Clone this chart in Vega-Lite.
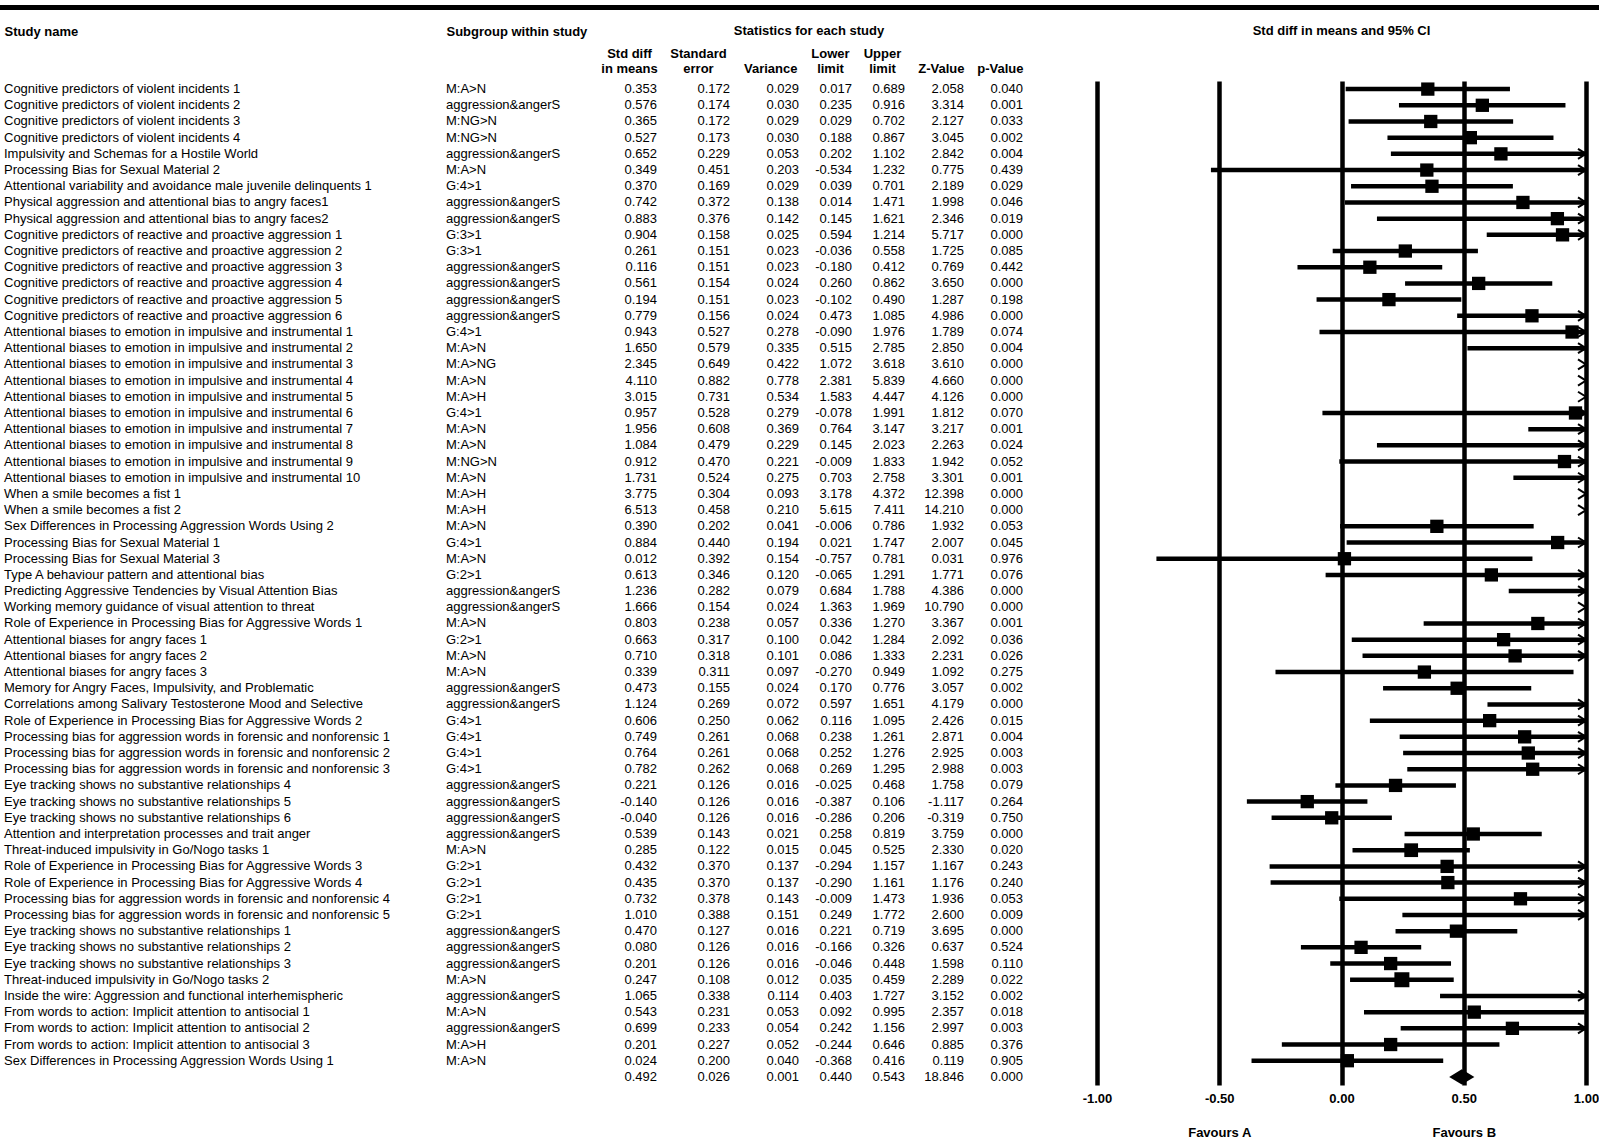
{
  "$schema": "https://vega.github.io/schema/vega-lite/v6.json",
  "autosize": {"type": "pad"},
  "padding": {"left": 0, "top": 5, "right": 0, "bottom": 0},
  "background": "white",
  "config": {
    "font": "Liberation Sans",
    "view": {"stroke": null},
    "locale": {"number": {"decimal": ".", "thousands": ",", "grouping": [3], "currency": ["$", ""], "minus": "-"}},
    "axis": {"labelColor": "black", "labelFontWeight": "bold", "labelFontSize": 13, "labelAngle": 0, "ticks": false, "tickSize": 0, "domain": false, "labelOverlap": false, "title": null}
  },
  "datasets": {
    "studies": [
      {"row": 1, "type": "study", "study": "Cognitive predictors of violent incidents 1", "subgroup": "M:A>N", "es": 0.353, "se": 0.172, "var": 0.029, "lower": 0.017, "upper": 0.689, "z": 2.058, "p": 0.040},
      {"row": 2, "type": "study", "study": "Cognitive predictors of violent incidents 2", "subgroup": "aggression&angerS", "es": 0.576, "se": 0.174, "var": 0.030, "lower": 0.235, "upper": 0.916, "z": 3.314, "p": 0.001},
      {"row": 3, "type": "study", "study": "Cognitive predictors of violent incidents 3", "subgroup": "M:NG>N", "es": 0.365, "se": 0.172, "var": 0.029, "lower": 0.029, "upper": 0.702, "z": 2.127, "p": 0.033},
      {"row": 4, "type": "study", "study": "Cognitive predictors of violent incidents 4", "subgroup": "M:NG>N", "es": 0.527, "se": 0.173, "var": 0.030, "lower": 0.188, "upper": 0.867, "z": 3.045, "p": 0.002},
      {"row": 5, "type": "study", "study": "Impulsivity and Schemas for a Hostile World", "subgroup": "aggression&angerS", "es": 0.652, "se": 0.229, "var": 0.053, "lower": 0.202, "upper": 1.102, "z": 2.842, "p": 0.004},
      {"row": 6, "type": "study", "study": "Processing Bias for Sexual Material 2", "subgroup": "M:A>N", "es": 0.349, "se": 0.451, "var": 0.203, "lower": -0.534, "upper": 1.232, "z": 0.775, "p": 0.439},
      {"row": 7, "type": "study", "study": "Attentional variability and avoidance male juvenile delinquents 1", "subgroup": "G:4>1", "es": 0.370, "se": 0.169, "var": 0.029, "lower": 0.039, "upper": 0.701, "z": 2.189, "p": 0.029},
      {"row": 8, "type": "study", "study": "Physical aggression and attentional bias to angry faces1", "subgroup": "aggression&angerS", "es": 0.742, "se": 0.372, "var": 0.138, "lower": 0.014, "upper": 1.471, "z": 1.998, "p": 0.046},
      {"row": 9, "type": "study", "study": "Physical aggression and attentional bias to angry faces2", "subgroup": "aggression&angerS", "es": 0.883, "se": 0.376, "var": 0.142, "lower": 0.145, "upper": 1.621, "z": 2.346, "p": 0.019},
      {"row": 10, "type": "study", "study": "Cognitive predictors of reactive and proactive aggression 1", "subgroup": "G:3>1", "es": 0.904, "se": 0.158, "var": 0.025, "lower": 0.594, "upper": 1.214, "z": 5.717, "p": 0.000},
      {"row": 11, "type": "study", "study": "Cognitive predictors of reactive and proactive aggression 2", "subgroup": "G:3>1", "es": 0.261, "se": 0.151, "var": 0.023, "lower": -0.036, "upper": 0.558, "z": 1.725, "p": 0.085},
      {"row": 12, "type": "study", "study": "Cognitive predictors of reactive and proactive aggression 3", "subgroup": "aggression&angerS", "es": 0.116, "se": 0.151, "var": 0.023, "lower": -0.180, "upper": 0.412, "z": 0.769, "p": 0.442},
      {"row": 13, "type": "study", "study": "Cognitive predictors of reactive and proactive aggression 4", "subgroup": "aggression&angerS", "es": 0.561, "se": 0.154, "var": 0.024, "lower": 0.260, "upper": 0.862, "z": 3.650, "p": 0.000},
      {"row": 14, "type": "study", "study": "Cognitive predictors of reactive and proactive aggression 5", "subgroup": "aggression&angerS", "es": 0.194, "se": 0.151, "var": 0.023, "lower": -0.102, "upper": 0.490, "z": 1.287, "p": 0.198},
      {"row": 15, "type": "study", "study": "Cognitive predictors of reactive and proactive aggression 6", "subgroup": "aggression&angerS", "es": 0.779, "se": 0.156, "var": 0.024, "lower": 0.473, "upper": 1.085, "z": 4.986, "p": 0.000},
      {"row": 16, "type": "study", "study": "Attentional biases to emotion in impulsive and instrumental 1", "subgroup": "G:4>1", "es": 0.943, "se": 0.527, "var": 0.278, "lower": -0.090, "upper": 1.976, "z": 1.789, "p": 0.074},
      {"row": 17, "type": "study", "study": "Attentional biases to emotion in impulsive and instrumental 2", "subgroup": "M:A>N", "es": 1.650, "se": 0.579, "var": 0.335, "lower": 0.515, "upper": 2.785, "z": 2.850, "p": 0.004},
      {"row": 18, "type": "study", "study": "Attentional biases to emotion in impulsive and instrumental 3", "subgroup": "M:A>NG", "es": 2.345, "se": 0.649, "var": 0.422, "lower": 1.072, "upper": 3.618, "z": 3.610, "p": 0.000},
      {"row": 19, "type": "study", "study": "Attentional biases to emotion in impulsive and instrumental 4", "subgroup": "M:A>N", "es": 4.110, "se": 0.882, "var": 0.778, "lower": 2.381, "upper": 5.839, "z": 4.660, "p": 0.000},
      {"row": 20, "type": "study", "study": "Attentional biases to emotion in impulsive and instrumental 5", "subgroup": "M:A>H", "es": 3.015, "se": 0.731, "var": 0.534, "lower": 1.583, "upper": 4.447, "z": 4.126, "p": 0.000},
      {"row": 21, "type": "study", "study": "Attentional biases to emotion in impulsive and instrumental 6", "subgroup": "G:4>1", "es": 0.957, "se": 0.528, "var": 0.279, "lower": -0.078, "upper": 1.991, "z": 1.812, "p": 0.070},
      {"row": 22, "type": "study", "study": "Attentional biases to emotion in impulsive and instrumental 7", "subgroup": "M:A>N", "es": 1.956, "se": 0.608, "var": 0.369, "lower": 0.764, "upper": 3.147, "z": 3.217, "p": 0.001},
      {"row": 23, "type": "study", "study": "Attentional biases to emotion in impulsive and instrumental 8", "subgroup": "M:A>N", "es": 1.084, "se": 0.479, "var": 0.229, "lower": 0.145, "upper": 2.023, "z": 2.263, "p": 0.024},
      {"row": 24, "type": "study", "study": "Attentional biases to emotion in impulsive and instrumental 9", "subgroup": "M:NG>N", "es": 0.912, "se": 0.470, "var": 0.221, "lower": -0.009, "upper": 1.833, "z": 1.942, "p": 0.052},
      {"row": 25, "type": "study", "study": "Attentional biases to emotion in impulsive and instrumental 10", "subgroup": "M:A>N", "es": 1.731, "se": 0.524, "var": 0.275, "lower": 0.703, "upper": 2.758, "z": 3.301, "p": 0.001},
      {"row": 26, "type": "study", "study": "When a smile becomes a fist 1", "subgroup": "M:A>H", "es": 3.775, "se": 0.304, "var": 0.093, "lower": 3.178, "upper": 4.372, "z": 12.398, "p": 0.000},
      {"row": 27, "type": "study", "study": "When a smile becomes a fist 2", "subgroup": "M:A>H", "es": 6.513, "se": 0.458, "var": 0.210, "lower": 5.615, "upper": 7.411, "z": 14.210, "p": 0.000},
      {"row": 28, "type": "study", "study": "Sex Differences in Processing Aggression Words Using 2", "subgroup": "M:A>N", "es": 0.390, "se": 0.202, "var": 0.041, "lower": -0.006, "upper": 0.786, "z": 1.932, "p": 0.053},
      {"row": 29, "type": "study", "study": "Processing Bias for Sexual Material 1", "subgroup": "G:4>1", "es": 0.884, "se": 0.440, "var": 0.194, "lower": 0.021, "upper": 1.747, "z": 2.007, "p": 0.045},
      {"row": 30, "type": "study", "study": "Processing Bias for Sexual Material 3", "subgroup": "M:A>N", "es": 0.012, "se": 0.392, "var": 0.154, "lower": -0.757, "upper": 0.781, "z": 0.031, "p": 0.976},
      {"row": 31, "type": "study", "study": "Type A behaviour pattern and attentional bias", "subgroup": "G:2>1", "es": 0.613, "se": 0.346, "var": 0.120, "lower": -0.065, "upper": 1.291, "z": 1.771, "p": 0.076},
      {"row": 32, "type": "study", "study": "Predicting Aggressive Tendencies by Visual Attention Bias", "subgroup": "aggression&angerS", "es": 1.236, "se": 0.282, "var": 0.079, "lower": 0.684, "upper": 1.788, "z": 4.386, "p": 0.000},
      {"row": 33, "type": "study", "study": "Working memory guidance of visual attention to threat", "subgroup": "aggression&angerS", "es": 1.666, "se": 0.154, "var": 0.024, "lower": 1.363, "upper": 1.969, "z": 10.790, "p": 0.000},
      {"row": 34, "type": "study", "study": "Role of Experience in Processing Bias for Aggressive Words 1", "subgroup": "M:A>N", "es": 0.803, "se": 0.238, "var": 0.057, "lower": 0.336, "upper": 1.270, "z": 3.367, "p": 0.001},
      {"row": 35, "type": "study", "study": "Attentional biases for angry faces 1", "subgroup": "G:2>1", "es": 0.663, "se": 0.317, "var": 0.100, "lower": 0.042, "upper": 1.284, "z": 2.092, "p": 0.036},
      {"row": 36, "type": "study", "study": "Attentional biases for angry faces 2", "subgroup": "M:A>N", "es": 0.710, "se": 0.318, "var": 0.101, "lower": 0.086, "upper": 1.333, "z": 2.231, "p": 0.026},
      {"row": 37, "type": "study", "study": "Attentional biases for angry faces 3", "subgroup": "M:A>N", "es": 0.339, "se": 0.311, "var": 0.097, "lower": -0.270, "upper": 0.949, "z": 1.092, "p": 0.275},
      {"row": 38, "type": "study", "study": "Memory for Angry Faces, Impulsivity, and Problematic", "subgroup": "aggression&angerS", "es": 0.473, "se": 0.155, "var": 0.024, "lower": 0.170, "upper": 0.776, "z": 3.057, "p": 0.002},
      {"row": 39, "type": "study", "study": "Correlations among Salivary Testosterone Mood and Selective", "subgroup": "aggression&angerS", "es": 1.124, "se": 0.269, "var": 0.072, "lower": 0.597, "upper": 1.651, "z": 4.179, "p": 0.000},
      {"row": 40, "type": "study", "study": "Role of Experience in Processing Bias for Aggressive Words 2", "subgroup": "G:4>1", "es": 0.606, "se": 0.250, "var": 0.062, "lower": 0.116, "upper": 1.095, "z": 2.426, "p": 0.015},
      {"row": 41, "type": "study", "study": "Processing bias for aggression words in forensic and nonforensic 1", "subgroup": "G:4>1", "es": 0.749, "se": 0.261, "var": 0.068, "lower": 0.238, "upper": 1.261, "z": 2.871, "p": 0.004},
      {"row": 42, "type": "study", "study": "Processing bias for aggression words in forensic and nonforensic 2", "subgroup": "G:4>1", "es": 0.764, "se": 0.261, "var": 0.068, "lower": 0.252, "upper": 1.276, "z": 2.925, "p": 0.003},
      {"row": 43, "type": "study", "study": "Processing bias for aggression words in forensic and nonforensic 3", "subgroup": "G:4>1", "es": 0.782, "se": 0.262, "var": 0.068, "lower": 0.269, "upper": 1.295, "z": 2.988, "p": 0.003},
      {"row": 44, "type": "study", "study": "Eye tracking shows no substantive relationships 4", "subgroup": "aggression&angerS", "es": 0.221, "se": 0.126, "var": 0.016, "lower": -0.025, "upper": 0.468, "z": 1.758, "p": 0.079},
      {"row": 45, "type": "study", "study": "Eye tracking shows no substantive relationships 5", "subgroup": "aggression&angerS", "es": -0.140, "se": 0.126, "var": 0.016, "lower": -0.387, "upper": 0.106, "z": -1.117, "p": 0.264},
      {"row": 46, "type": "study", "study": "Eye tracking shows no substantive relationships 6", "subgroup": "aggression&angerS", "es": -0.040, "se": 0.126, "var": 0.016, "lower": -0.286, "upper": 0.206, "z": -0.319, "p": 0.750},
      {"row": 47, "type": "study", "study": "Attention and interpretation processes and trait anger", "subgroup": "aggression&angerS", "es": 0.539, "se": 0.143, "var": 0.021, "lower": 0.258, "upper": 0.819, "z": 3.759, "p": 0.000},
      {"row": 48, "type": "study", "study": "Threat-induced impulsivity in Go/Nogo tasks 1", "subgroup": "M:A>N", "es": 0.285, "se": 0.122, "var": 0.015, "lower": 0.045, "upper": 0.525, "z": 2.330, "p": 0.020},
      {"row": 49, "type": "study", "study": "Role of Experience in Processing Bias for Aggressive Words 3", "subgroup": "G:2>1", "es": 0.432, "se": 0.370, "var": 0.137, "lower": -0.294, "upper": 1.157, "z": 1.167, "p": 0.243},
      {"row": 50, "type": "study", "study": "Role of Experience in Processing Bias for Aggressive Words 4", "subgroup": "G:2>1", "es": 0.435, "se": 0.370, "var": 0.137, "lower": -0.290, "upper": 1.161, "z": 1.176, "p": 0.240},
      {"row": 51, "type": "study", "study": "Processing bias for aggression words in forensic and nonforensic 4", "subgroup": "G:2>1", "es": 0.732, "se": 0.378, "var": 0.143, "lower": -0.009, "upper": 1.473, "z": 1.936, "p": 0.053},
      {"row": 52, "type": "study", "study": "Processing bias for aggression words in forensic and nonforensic 5", "subgroup": "G:2>1", "es": 1.010, "se": 0.388, "var": 0.151, "lower": 0.249, "upper": 1.772, "z": 2.600, "p": 0.009},
      {"row": 53, "type": "study", "study": "Eye tracking shows no substantive relationships 1", "subgroup": "aggression&angerS", "es": 0.470, "se": 0.127, "var": 0.016, "lower": 0.221, "upper": 0.719, "z": 3.695, "p": 0.000},
      {"row": 54, "type": "study", "study": "Eye tracking shows no substantive relationships 2", "subgroup": "aggression&angerS", "es": 0.080, "se": 0.126, "var": 0.016, "lower": -0.166, "upper": 0.326, "z": 0.637, "p": 0.524},
      {"row": 55, "type": "study", "study": "Eye tracking shows no substantive relationships 3", "subgroup": "aggression&angerS", "es": 0.201, "se": 0.126, "var": 0.016, "lower": -0.046, "upper": 0.448, "z": 1.598, "p": 0.110},
      {"row": 56, "type": "study", "study": "Threat-induced impulsivity in Go/Nogo tasks 2", "subgroup": "M:A>N", "es": 0.247, "se": 0.108, "var": 0.012, "lower": 0.035, "upper": 0.459, "z": 2.289, "p": 0.022},
      {"row": 57, "type": "study", "study": "Inside the wire: Aggression and functional interhemispheric", "subgroup": "aggression&angerS", "es": 1.065, "se": 0.338, "var": 0.114, "lower": 0.403, "upper": 1.727, "z": 3.152, "p": 0.002},
      {"row": 58, "type": "study", "study": "From words to action: Implicit attention to antisocial 1", "subgroup": "M:A>N", "es": 0.543, "se": 0.231, "var": 0.053, "lower": 0.092, "upper": 0.995, "z": 2.357, "p": 0.018},
      {"row": 59, "type": "study", "study": "From words to action: Implicit attention to antisocial 2", "subgroup": "aggression&angerS", "es": 0.699, "se": 0.233, "var": 0.054, "lower": 0.242, "upper": 1.156, "z": 2.997, "p": 0.003},
      {"row": 60, "type": "study", "study": "From words to action: Implicit attention to antisocial 3", "subgroup": "M:A>H", "es": 0.201, "se": 0.227, "var": 0.052, "lower": -0.244, "upper": 0.646, "z": 0.885, "p": 0.376},
      {"row": 61, "type": "study", "study": "Sex Differences in Processing Aggression Words Using 1", "subgroup": "M:A>N", "es": 0.024, "se": 0.200, "var": 0.040, "lower": -0.368, "upper": 0.416, "z": 0.119, "p": 0.905},
      {"row": 62, "type": "summary", "study": "", "subgroup": "", "es": 0.492, "se": 0.026, "var": 0.001, "lower": 0.440, "upper": 0.543, "z": 18.846, "p": 0.000}
    ]
  },
  "vconcat": [
    {
      "width": 1599,
      "height": 5,
      "view": {"fill": "black", "stroke": null},
      "data": {"values": [{"part": "top rule"}]},
      "mark": {"type": "rect", "color": "black"},
      "encoding": {}
    },
    {
      "hconcat": [
        {
          "width": 521,
          "height": 1004,
          "data": {"name": "studies"},
          "transform": [{"fold": ["study", "subgroup"], "as": ["col", "val"]}],
          "mark": {"type": "text", "align": "left", "baseline": "middle", "fontSize": 13, "color": "black"},
          "encoding": {
            "x": {
              "field": "col", "type": "nominal",
              "scale": {"type": "point", "domain": ["study", "subgroup"], "padding": 0.089367, "align": 0.050633},
              "axis": {"orient": "top", "labelExpr": "datum.value == 'study' ? 'Study name' : 'Subgroup within study'", "labelAlign": "left", "labelBaseline": "bottom", "labelPadding": 43}
            },
            "y": {"field": "row", "type": "ordinal", "axis": null},
            "text": {"field": "val", "type": "nominal"}
          }
        },
        {
          "width": 428,
          "height": 1004,
          "data": {"name": "studies"},
          "title": {"text": "Statistics for each study", "anchor": "middle", "frame": "group", "fontSize": 13, "fontWeight": "bold", "color": "black", "offset": 9},
          "resolve": {"scale": {"x": "independent"}, "axis": {"x": "independent"}},
          "layer": [
            {
              "mark": {"type": "text", "align": "right", "baseline": "middle", "fontSize": 13, "color": "black"},
              "encoding": {
                "x": {"datum": "Std diff in means", "type": "nominal", "scale": {"type": "point", "align": 0.14486},
                  "axis": {"orient": "top", "labelExpr": "['Std diff', 'in means']", "labelAlign": "center", "labelOffset": -28, "labelBaseline": "bottom", "labelLineHeight": 15, "labelPadding": 21}},
                "y": {"field": "row", "type": "ordinal", "axis": null},
                "text": {"field": "es", "type": "quantitative", "format": ".3f"}
              }
            },
            {
              "mark": {"type": "text", "align": "right", "baseline": "middle", "fontSize": 13, "color": "black"},
              "encoding": {
                "x": {"datum": "Standard error", "type": "nominal", "scale": {"type": "point", "align": 0.31542},
                  "axis": {"orient": "top", "labelExpr": "['Standard', 'error']", "labelAlign": "center", "labelOffset": -32, "labelBaseline": "bottom", "labelLineHeight": 15, "labelPadding": 21}},
                "y": {"field": "row", "type": "ordinal", "axis": null},
                "text": {"field": "se", "type": "quantitative", "format": ".3f"}
              }
            },
            {
              "mark": {"type": "text", "align": "right", "baseline": "middle", "fontSize": 13, "color": "black"},
              "encoding": {
                "x": {"datum": "Variance", "type": "nominal", "scale": {"type": "point", "align": 0.47664},
                  "axis": {"orient": "top", "labelAlign": "right", "labelOffset": -2, "labelBaseline": "bottom", "labelPadding": 6}},
                "y": {"field": "row", "type": "ordinal", "axis": null},
                "text": {"field": "var", "type": "quantitative", "format": ".3f"}
              }
            },
            {
              "mark": {"type": "text", "align": "right", "baseline": "middle", "fontSize": 13, "color": "black"},
              "encoding": {
                "x": {"datum": "Lower limit", "type": "nominal", "scale": {"type": "point", "align": 0.60047},
                  "axis": {"orient": "top", "labelExpr": "['Lower', 'limit']", "labelAlign": "center", "labelOffset": -22, "labelBaseline": "bottom", "labelLineHeight": 15, "labelPadding": 21}},
                "y": {"field": "row", "type": "ordinal", "axis": null},
                "text": {"field": "lower", "type": "quantitative", "format": ".3f"}
              }
            },
            {
              "mark": {"type": "text", "align": "right", "baseline": "middle", "fontSize": 13, "color": "black"},
              "encoding": {
                "x": {"datum": "Upper limit", "type": "nominal", "scale": {"type": "point", "align": 0.72430},
                  "axis": {"orient": "top", "labelExpr": "['Upper', 'limit']", "labelAlign": "center", "labelOffset": -23, "labelBaseline": "bottom", "labelLineHeight": 15, "labelPadding": 21}},
                "y": {"field": "row", "type": "ordinal", "axis": null},
                "text": {"field": "upper", "type": "quantitative", "format": ".3f"}
              }
            },
            {
              "mark": {"type": "text", "align": "right", "baseline": "middle", "fontSize": 13, "color": "black"},
              "encoding": {
                "x": {"datum": "Z-Value", "type": "nominal", "scale": {"type": "point", "align": 0.86215},
                  "axis": {"orient": "top", "labelAlign": "right", "labelBaseline": "bottom", "labelPadding": 6}},
                "y": {"field": "row", "type": "ordinal", "axis": null},
                "text": {"field": "z", "type": "quantitative", "format": ".3f"}
              }
            },
            {
              "mark": {"type": "text", "align": "right", "baseline": "middle", "fontSize": 13, "color": "black"},
              "encoding": {
                "x": {"datum": "p-Value", "type": "nominal", "scale": {"type": "point", "align": 1},
                  "axis": {"orient": "top", "labelAlign": "right", "labelBaseline": "bottom", "labelPadding": 6}},
                "y": {"field": "row", "type": "ordinal", "axis": null},
                "text": {"field": "p", "type": "quantitative", "format": ".3f"}
              }
            }
          ]
        },
        {
          "width": 489,
          "height": 1004,
          "data": {"name": "studies"},
          "title": {"text": "Std diff in means and 95% CI", "anchor": "middle", "frame": "group", "fontSize": 13, "fontWeight": "bold", "color": "black", "offset": 43},
          "layer": [
            {
              "transform": [{"filter": "datum.type == 'study'"}],
              "mark": {"type": "rule", "strokeWidth": 4.5, "color": "black"},
              "encoding": {
                "x": {
                  "field": "lower", "type": "quantitative", "title": null,
                  "scale": {"domain": [-1, 1], "nice": false, "zero": false, "clamp": true},
                  "axis": {"orient": "bottom", "values": [-1, -0.5, 0, 0.5, 1], "format": ".2f", "labelExpr": "datum.value == -0.5 ? [datum.label, 'Favours A'] : datum.value == 0.5 ? [datum.label, 'Favours B'] : datum.label", "labelPadding": 7, "labelLineHeight": 34, "labelFlush": false, "labelBound": false, "labelBaseline": "top", "grid": true, "gridColor": "black", "gridWidth": 4.5, "gridOpacity": 1}
                },
                "x2": {"field": "upper"},
                "y": {"field": "row", "type": "ordinal", "axis": null}
              }
            },
            {
              "transform": [{"filter": "datum.type == 'study' && datum.es <= 1"}],
              "mark": {"type": "point", "shape": "square", "filled": true, "color": "black", "opacity": 1},
              "encoding": {
                "x": {"field": "es", "type": "quantitative", "title": null},
                "y": {"field": "row", "type": "ordinal", "axis": null},
                "size": {"field": "var", "type": "quantitative", "scale": {"domain": [0.012, 0.016], "range": [225, 177], "clamp": true}, "legend": null}
              }
            },
            {
              "transform": [{"filter": "datum.type == 'study' && datum.upper > 1"}],
              "mark": {"type": "point", "shape": "M -1.6 -1 L 0 0 L -1.6 1", "filled": false, "stroke": "black", "strokeWidth": 2, "size": 100, "opacity": 1},
              "encoding": {
                "x": {"field": "upper", "type": "quantitative", "title": null},
                "y": {"field": "row", "type": "ordinal", "axis": null}
              }
            },
            {
              "transform": [{"filter": "datum.type == 'summary'"}],
              "mark": {"type": "point", "shape": "M -1 0 L 0 -0.6 L 1 0 L 0 0.6 Z", "filled": true, "color": "black", "size": 635, "opacity": 1},
              "encoding": {
                "x": {"field": "es", "type": "quantitative", "title": null},
                "y": {"field": "row", "type": "ordinal", "axis": null}
              }
            }
          ]
        }
      ],
      "spacing": 74,
      "bounds": "flush"
    }
  ],
  "spacing": 71,
  "bounds": "flush"
}
